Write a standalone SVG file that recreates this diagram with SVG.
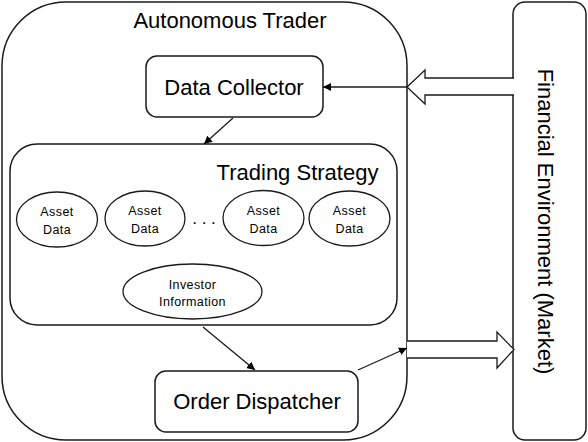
<svg xmlns="http://www.w3.org/2000/svg" width="588" height="442" viewBox="0 0 588 442">
<defs>
<style>
.box{fill:#fff;stroke:#1a1a1a;stroke-width:1.5}
.ell{fill:#fff;stroke:#1a1a1a;stroke-width:1.3}
.big{font-family:"Liberation Sans",Arial,sans-serif;font-size:22px;fill:#000}
.sm{font-family:"Liberation Sans",Arial,sans-serif;font-size:12.5px;letter-spacing:0.4px;fill:#000}
.ln{fill:none;stroke:#1a1a1a;stroke-width:1.3}
.blk{fill:#fff;stroke:#1a1a1a;stroke-width:1.3;stroke-linejoin:miter}
</style>
<marker id="ah" viewBox="0 0 10 10" refX="10" refY="5" markerWidth="8" markerHeight="8" orient="auto" markerUnits="userSpaceOnUse">
<path d="M0,0 L10,5 L0,10 z" fill="#000"/>
</marker>
</defs>
<rect width="588" height="442" fill="#fff"/>
<g id="autonomous-trader">
<rect class="box" x="2" y="2" width="405" height="438" rx="64" ry="64"/>
<text class="big" x="230" y="28" text-anchor="middle">Autonomous Trader</text>
</g>
<g id="financial-environment">
<rect class="box" x="513" y="2" width="73" height="438" rx="12" ry="12"/>
<text class="big" transform="translate(538,221.5) rotate(90)" text-anchor="middle">Financial Environment (Market)</text>
</g>
<g id="data-collector">
<rect class="box" x="146" y="56" width="177" height="61" rx="11" ry="11"/>
<text class="big" x="234" y="95" text-anchor="middle">Data Collector</text>
</g>
<g id="trading-strategy">
<rect class="box" x="10" y="144" width="387" height="181" rx="27" ry="27" stroke-width="2"/>
<text class="big" x="297.5" y="180" text-anchor="middle">Trading Strategy</text>
</g>
<g id="asset-data-1">
<ellipse class="ell" cx="57" cy="219.5" rx="40.5" ry="27.5"/>
<text class="sm" x="57" y="216" text-anchor="middle">Asset</text>
<text class="sm" x="57" y="234" text-anchor="middle">Data</text>
</g>
<g id="asset-data-2">
<ellipse class="ell" cx="145" cy="218.5" rx="40" ry="27.5"/>
<text class="sm" x="145" y="215" text-anchor="middle">Asset</text>
<text class="sm" x="145" y="233" text-anchor="middle">Data</text>
</g>
<g id="ellipsis">
<text x="204" y="224" text-anchor="middle" font-family="Liberation Sans, Arial, sans-serif" font-size="17" fill="#000">. . .</text>
</g>
<g id="asset-data-3">
<ellipse class="ell" cx="263.5" cy="218" rx="40.5" ry="27.5"/>
<text class="sm" x="263.5" y="215" text-anchor="middle">Asset</text>
<text class="sm" x="263.5" y="233" text-anchor="middle">Data</text>
</g>
<g id="asset-data-4">
<ellipse class="ell" cx="349.5" cy="218.5" rx="40.5" ry="27.5"/>
<text class="sm" x="349.5" y="215" text-anchor="middle">Asset</text>
<text class="sm" x="349.5" y="233" text-anchor="middle">Data</text>
</g>
<g id="investor-information">
<ellipse class="ell" cx="192.5" cy="291.5" rx="69.5" ry="27.5"/>
<text class="sm" x="192.5" y="289" text-anchor="middle">Investor</text>
<text class="sm" x="192.5" y="306" text-anchor="middle">Information</text>
</g>
<g id="order-dispatcher">
<rect class="box" x="155" y="371" width="203" height="61" rx="11" ry="11"/>
<text class="big" x="257" y="409" text-anchor="middle">Order Dispatcher</text>
</g>
<g id="connectors">
<path class="blk" d="M514,78 L425,78 L425,70 L407,87 L425,104 L425,95 L514,95"/>
<path class="blk" d="M407,341 L497,341 L497,332 L514,349.5 L497,368 L497,358 L407,358"/>
<line class="ln" x1="407" y1="87" x2="323" y2="87" marker-end="url(#ah)"/>
<line class="ln" x1="233" y1="118" x2="204" y2="144" marker-end="url(#ah)"/>
<line class="ln" x1="203" y1="327" x2="255" y2="370" marker-end="url(#ah)"/>
<line class="ln" x1="358" y1="370" x2="407" y2="348" marker-end="url(#ah)"/>
</g>
</svg>
